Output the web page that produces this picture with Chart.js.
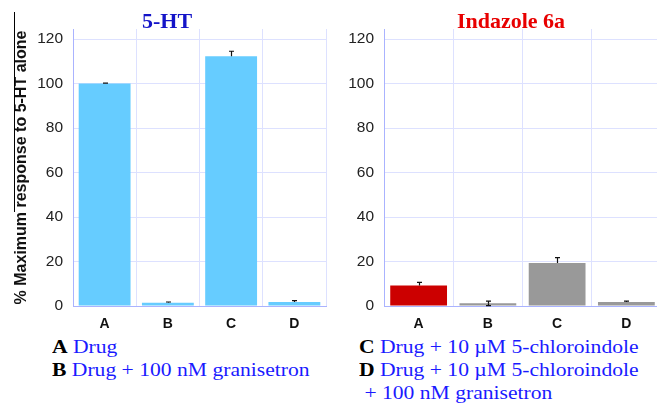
<!DOCTYPE html>
<html><head><meta charset="utf-8">
<script src="https://cdn.jsdelivr.net/npm/chart.js@4/dist/chart.umd.min.js"></script>
<style>
html,body{margin:0;padding:0;background:#fff;width:657px;height:405px;overflow:hidden;position:relative}
canvas{position:absolute;top:0}
.t{position:absolute;font-family:"Liberation Serif",serif;white-space:nowrap}
.ttl{font-weight:bold;font-size:22px;line-height:22px;top:10px;transform:translateX(-50%)}
.lg{font-size:18px;line-height:23px;color:#1a1aff;transform:scaleX(1.2);transform-origin:0 0}
.lg b{color:#000}
</style></head><body>
<div id="w1" style="position:absolute;left:0;top:0;width:330px;height:335px"><canvas id="c1"></canvas></div>
<div id="w2" style="position:absolute;left:330px;top:0;width:335px;height:335px"><canvas id="c2"></canvas></div>
<div class="t ttl" style="left:167px;color:#1414c8">5-HT</div>
<div class="t ttl" style="left:511px;color:#e80000">Indazole 6a</div>
<div style="position:absolute;left:14px;top:12px;width:1px;height:200px;background:#000"></div>
<div class="t lg" style="left:52px;top:336px"><b>A</b> Drug<br><b>B</b> Drug + 100 nM granisetron</div>
<div class="t lg" style="left:359px;top:336px"><b>C</b> Drug + 10 µM 5-chloroindole<br><b>D</b> Drug + 10 µM 5-chloroindole<br>&nbsp;+ 100 nM granisetron</div>
<script>
const categories = ["A","B","C","D"];
const yTicks = [0,20,40,60,80,100,120];
const htValues = [100, 1.5, 112.3, 1.8];
const htErrUp = [0.2, 0.3, 2.2, 0.6];
const htErrDown = [0, 0, 0, 0];
const indValues = [9.2, 1.2, 19.3, 1.8];
const indErrUp = [1.4, 1.0, 2.4, 0.4];
const indErrDown = [0, 1.0, 0, 0];
const htColors = ["#66ccff","#66ccff","#66ccff","#66ccff"];
const indColors = ["#cc0000","#999999","#999999","#999999"];
const yTitle = "% Maximum response to 5-HT alone";

const errPlugin = {
  id:'err',
  afterDatasetsDraw(chart){
    const ctx = chart.ctx, ys = chart.scales.y;
    const o = chart.options.plugins.err;
    const meta = chart.getDatasetMeta(0);
    ctx.save();
    ctx.strokeStyle = '#111'; ctx.lineWidth = 1.2;
    meta.data.forEach((bar,i)=>{
      const v = chart.data.datasets[0].data[i];
      const x = Math.round(bar.x)+0.5;
      const segs = [];
      if (o.up[i]>0) segs.push(ys.getPixelForValue(v+o.up[i]));
      if (o.down[i]>0) segs.push(ys.getPixelForValue(v-o.down[i]));
      segs.forEach(yy=>{
        ctx.beginPath();
        ctx.moveTo(x, bar.y); ctx.lineTo(x, yy);
        ctx.moveTo(x-2.5, yy); ctx.lineTo(x+2.5, yy);
        ctx.stroke();
      });
    });
    ctx.restore();
  }
};

function make(id, values, colors, up, down, yW, showTitle){
  return new Chart(document.getElementById(id), {
    type:'bar',
    data:{labels:categories, datasets:[{data:values, backgroundColor:colors, borderWidth:0, barPercentage:0.82, categoryPercentage:1}]},
    plugins:[errPlugin],
    options:{
      responsive:true, maintainAspectRatio:false, animation:false,
      layout:{padding:{top:29,right:4,left:0,bottom:0}},
      plugins:{legend:{display:false}, tooltip:{enabled:false}, err:{up:up, down:down}},
      scales:{
        x:{
          grid:{color:'#dde1ff', drawTicks:false, offset:true},
          border:{color:'#aab3ff'},
          ticks:{padding:10, color:'#111', font:{family:'Liberation Sans', size:14, weight:'bold'}},
          afterFit(s){ s.height = 29; }
        },
        y:{
          min:0, max:124.5,
          grid:{color:'#dde1ff', drawTicks:false},
          border:{color:'#aab3ff'},
          ticks:{padding:10, color:'#222', font:{family:'Liberation Sans', size:15.5}},
          afterBuildTicks(s){ s.ticks = yTicks.map(v=>({value:v})); },
          title:{display:showTitle, text:yTitle, color:'#111', padding:{top:12,bottom:0}, font:{family:'Liberation Sans', size:16, weight:'bold'}},
          afterFit(s){ s.width = yW; }
        }
      }
    }
  });
}
make('c1', htValues, htColors, htErrUp, htErrDown, 73, true);
make('c2', indValues, indColors, indErrUp, indErrDown, 54, false);
</script>
</body></html>
